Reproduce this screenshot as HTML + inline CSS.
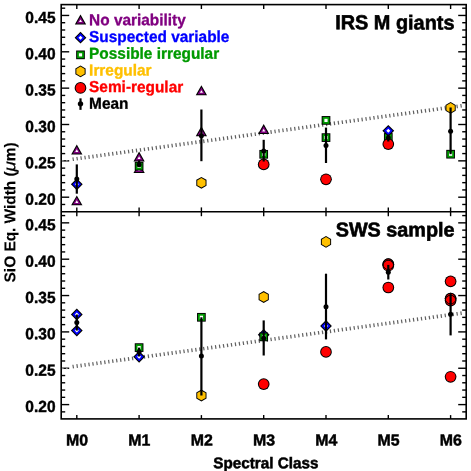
<!DOCTYPE html>
<html><head><meta charset="utf-8"><title>SiO Eq. Width vs Spectral Class</title>
<style>
html,body{margin:0;padding:0;background:#fff;}
body{width:471px;height:471px;overflow:hidden;font-family:"Liberation Sans",sans-serif;}
svg{display:block;will-change:transform}
text{font-family:"Liberation Sans",sans-serif;font-weight:bold;fill:#000}
</style></head><body>
<svg width="471" height="471" viewBox="0 0 471 471">
<rect x="0" y="0" width="471" height="471" fill="#fff"/>
<rect x="61.2" y="4.6" width="405.0" height="414.29999999999995" fill="none" stroke="#000" stroke-width="1.6"/>
<line x1="61.20" y1="211.80" x2="466.20" y2="211.80" stroke="#000" stroke-width="1.6"/>
<line x1="61.20" y1="204.47" x2="65.20" y2="204.47" stroke="#000" stroke-width="1.4"/>
<line x1="466.20" y1="204.47" x2="462.20" y2="204.47" stroke="#000" stroke-width="1.4"/>
<line x1="61.20" y1="197.20" x2="69.20" y2="197.20" stroke="#000" stroke-width="1.4"/>
<line x1="466.20" y1="197.20" x2="458.20" y2="197.20" stroke="#000" stroke-width="1.4"/>
<line x1="61.20" y1="189.93" x2="65.20" y2="189.93" stroke="#000" stroke-width="1.4"/>
<line x1="466.20" y1="189.93" x2="462.20" y2="189.93" stroke="#000" stroke-width="1.4"/>
<line x1="61.20" y1="182.66" x2="65.20" y2="182.66" stroke="#000" stroke-width="1.4"/>
<line x1="466.20" y1="182.66" x2="462.20" y2="182.66" stroke="#000" stroke-width="1.4"/>
<line x1="61.20" y1="175.39" x2="65.20" y2="175.39" stroke="#000" stroke-width="1.4"/>
<line x1="466.20" y1="175.39" x2="462.20" y2="175.39" stroke="#000" stroke-width="1.4"/>
<line x1="61.20" y1="168.12" x2="65.20" y2="168.12" stroke="#000" stroke-width="1.4"/>
<line x1="466.20" y1="168.12" x2="462.20" y2="168.12" stroke="#000" stroke-width="1.4"/>
<line x1="61.20" y1="160.85" x2="69.20" y2="160.85" stroke="#000" stroke-width="1.4"/>
<line x1="466.20" y1="160.85" x2="458.20" y2="160.85" stroke="#000" stroke-width="1.4"/>
<line x1="61.20" y1="153.58" x2="65.20" y2="153.58" stroke="#000" stroke-width="1.4"/>
<line x1="466.20" y1="153.58" x2="462.20" y2="153.58" stroke="#000" stroke-width="1.4"/>
<line x1="61.20" y1="146.31" x2="65.20" y2="146.31" stroke="#000" stroke-width="1.4"/>
<line x1="466.20" y1="146.31" x2="462.20" y2="146.31" stroke="#000" stroke-width="1.4"/>
<line x1="61.20" y1="139.04" x2="65.20" y2="139.04" stroke="#000" stroke-width="1.4"/>
<line x1="466.20" y1="139.04" x2="462.20" y2="139.04" stroke="#000" stroke-width="1.4"/>
<line x1="61.20" y1="131.77" x2="65.20" y2="131.77" stroke="#000" stroke-width="1.4"/>
<line x1="466.20" y1="131.77" x2="462.20" y2="131.77" stroke="#000" stroke-width="1.4"/>
<line x1="61.20" y1="124.50" x2="69.20" y2="124.50" stroke="#000" stroke-width="1.4"/>
<line x1="466.20" y1="124.50" x2="458.20" y2="124.50" stroke="#000" stroke-width="1.4"/>
<line x1="61.20" y1="117.23" x2="65.20" y2="117.23" stroke="#000" stroke-width="1.4"/>
<line x1="466.20" y1="117.23" x2="462.20" y2="117.23" stroke="#000" stroke-width="1.4"/>
<line x1="61.20" y1="109.96" x2="65.20" y2="109.96" stroke="#000" stroke-width="1.4"/>
<line x1="466.20" y1="109.96" x2="462.20" y2="109.96" stroke="#000" stroke-width="1.4"/>
<line x1="61.20" y1="102.69" x2="65.20" y2="102.69" stroke="#000" stroke-width="1.4"/>
<line x1="466.20" y1="102.69" x2="462.20" y2="102.69" stroke="#000" stroke-width="1.4"/>
<line x1="61.20" y1="95.42" x2="65.20" y2="95.42" stroke="#000" stroke-width="1.4"/>
<line x1="466.20" y1="95.42" x2="462.20" y2="95.42" stroke="#000" stroke-width="1.4"/>
<line x1="61.20" y1="88.15" x2="69.20" y2="88.15" stroke="#000" stroke-width="1.4"/>
<line x1="466.20" y1="88.15" x2="458.20" y2="88.15" stroke="#000" stroke-width="1.4"/>
<line x1="61.20" y1="80.88" x2="65.20" y2="80.88" stroke="#000" stroke-width="1.4"/>
<line x1="466.20" y1="80.88" x2="462.20" y2="80.88" stroke="#000" stroke-width="1.4"/>
<line x1="61.20" y1="73.61" x2="65.20" y2="73.61" stroke="#000" stroke-width="1.4"/>
<line x1="466.20" y1="73.61" x2="462.20" y2="73.61" stroke="#000" stroke-width="1.4"/>
<line x1="61.20" y1="66.34" x2="65.20" y2="66.34" stroke="#000" stroke-width="1.4"/>
<line x1="466.20" y1="66.34" x2="462.20" y2="66.34" stroke="#000" stroke-width="1.4"/>
<line x1="61.20" y1="59.07" x2="65.20" y2="59.07" stroke="#000" stroke-width="1.4"/>
<line x1="466.20" y1="59.07" x2="462.20" y2="59.07" stroke="#000" stroke-width="1.4"/>
<line x1="61.20" y1="51.80" x2="69.20" y2="51.80" stroke="#000" stroke-width="1.4"/>
<line x1="466.20" y1="51.80" x2="458.20" y2="51.80" stroke="#000" stroke-width="1.4"/>
<line x1="61.20" y1="44.53" x2="65.20" y2="44.53" stroke="#000" stroke-width="1.4"/>
<line x1="466.20" y1="44.53" x2="462.20" y2="44.53" stroke="#000" stroke-width="1.4"/>
<line x1="61.20" y1="37.26" x2="65.20" y2="37.26" stroke="#000" stroke-width="1.4"/>
<line x1="466.20" y1="37.26" x2="462.20" y2="37.26" stroke="#000" stroke-width="1.4"/>
<line x1="61.20" y1="29.99" x2="65.20" y2="29.99" stroke="#000" stroke-width="1.4"/>
<line x1="466.20" y1="29.99" x2="462.20" y2="29.99" stroke="#000" stroke-width="1.4"/>
<line x1="61.20" y1="22.72" x2="65.20" y2="22.72" stroke="#000" stroke-width="1.4"/>
<line x1="466.20" y1="22.72" x2="462.20" y2="22.72" stroke="#000" stroke-width="1.4"/>
<line x1="61.20" y1="15.45" x2="69.20" y2="15.45" stroke="#000" stroke-width="1.4"/>
<line x1="466.20" y1="15.45" x2="458.20" y2="15.45" stroke="#000" stroke-width="1.4"/>
<line x1="61.20" y1="8.18" x2="65.20" y2="8.18" stroke="#000" stroke-width="1.4"/>
<line x1="466.20" y1="8.18" x2="462.20" y2="8.18" stroke="#000" stroke-width="1.4"/>
<line x1="61.20" y1="411.87" x2="65.20" y2="411.87" stroke="#000" stroke-width="1.4"/>
<line x1="466.20" y1="411.87" x2="462.20" y2="411.87" stroke="#000" stroke-width="1.4"/>
<line x1="61.20" y1="404.60" x2="69.20" y2="404.60" stroke="#000" stroke-width="1.4"/>
<line x1="466.20" y1="404.60" x2="458.20" y2="404.60" stroke="#000" stroke-width="1.4"/>
<line x1="61.20" y1="397.33" x2="65.20" y2="397.33" stroke="#000" stroke-width="1.4"/>
<line x1="466.20" y1="397.33" x2="462.20" y2="397.33" stroke="#000" stroke-width="1.4"/>
<line x1="61.20" y1="390.06" x2="65.20" y2="390.06" stroke="#000" stroke-width="1.4"/>
<line x1="466.20" y1="390.06" x2="462.20" y2="390.06" stroke="#000" stroke-width="1.4"/>
<line x1="61.20" y1="382.79" x2="65.20" y2="382.79" stroke="#000" stroke-width="1.4"/>
<line x1="466.20" y1="382.79" x2="462.20" y2="382.79" stroke="#000" stroke-width="1.4"/>
<line x1="61.20" y1="375.52" x2="65.20" y2="375.52" stroke="#000" stroke-width="1.4"/>
<line x1="466.20" y1="375.52" x2="462.20" y2="375.52" stroke="#000" stroke-width="1.4"/>
<line x1="61.20" y1="368.25" x2="69.20" y2="368.25" stroke="#000" stroke-width="1.4"/>
<line x1="466.20" y1="368.25" x2="458.20" y2="368.25" stroke="#000" stroke-width="1.4"/>
<line x1="61.20" y1="360.98" x2="65.20" y2="360.98" stroke="#000" stroke-width="1.4"/>
<line x1="466.20" y1="360.98" x2="462.20" y2="360.98" stroke="#000" stroke-width="1.4"/>
<line x1="61.20" y1="353.71" x2="65.20" y2="353.71" stroke="#000" stroke-width="1.4"/>
<line x1="466.20" y1="353.71" x2="462.20" y2="353.71" stroke="#000" stroke-width="1.4"/>
<line x1="61.20" y1="346.44" x2="65.20" y2="346.44" stroke="#000" stroke-width="1.4"/>
<line x1="466.20" y1="346.44" x2="462.20" y2="346.44" stroke="#000" stroke-width="1.4"/>
<line x1="61.20" y1="339.17" x2="65.20" y2="339.17" stroke="#000" stroke-width="1.4"/>
<line x1="466.20" y1="339.17" x2="462.20" y2="339.17" stroke="#000" stroke-width="1.4"/>
<line x1="61.20" y1="331.90" x2="69.20" y2="331.90" stroke="#000" stroke-width="1.4"/>
<line x1="466.20" y1="331.90" x2="458.20" y2="331.90" stroke="#000" stroke-width="1.4"/>
<line x1="61.20" y1="324.63" x2="65.20" y2="324.63" stroke="#000" stroke-width="1.4"/>
<line x1="466.20" y1="324.63" x2="462.20" y2="324.63" stroke="#000" stroke-width="1.4"/>
<line x1="61.20" y1="317.36" x2="65.20" y2="317.36" stroke="#000" stroke-width="1.4"/>
<line x1="466.20" y1="317.36" x2="462.20" y2="317.36" stroke="#000" stroke-width="1.4"/>
<line x1="61.20" y1="310.09" x2="65.20" y2="310.09" stroke="#000" stroke-width="1.4"/>
<line x1="466.20" y1="310.09" x2="462.20" y2="310.09" stroke="#000" stroke-width="1.4"/>
<line x1="61.20" y1="302.82" x2="65.20" y2="302.82" stroke="#000" stroke-width="1.4"/>
<line x1="466.20" y1="302.82" x2="462.20" y2="302.82" stroke="#000" stroke-width="1.4"/>
<line x1="61.20" y1="295.55" x2="69.20" y2="295.55" stroke="#000" stroke-width="1.4"/>
<line x1="466.20" y1="295.55" x2="458.20" y2="295.55" stroke="#000" stroke-width="1.4"/>
<line x1="61.20" y1="288.28" x2="65.20" y2="288.28" stroke="#000" stroke-width="1.4"/>
<line x1="466.20" y1="288.28" x2="462.20" y2="288.28" stroke="#000" stroke-width="1.4"/>
<line x1="61.20" y1="281.01" x2="65.20" y2="281.01" stroke="#000" stroke-width="1.4"/>
<line x1="466.20" y1="281.01" x2="462.20" y2="281.01" stroke="#000" stroke-width="1.4"/>
<line x1="61.20" y1="273.74" x2="65.20" y2="273.74" stroke="#000" stroke-width="1.4"/>
<line x1="466.20" y1="273.74" x2="462.20" y2="273.74" stroke="#000" stroke-width="1.4"/>
<line x1="61.20" y1="266.47" x2="65.20" y2="266.47" stroke="#000" stroke-width="1.4"/>
<line x1="466.20" y1="266.47" x2="462.20" y2="266.47" stroke="#000" stroke-width="1.4"/>
<line x1="61.20" y1="259.20" x2="69.20" y2="259.20" stroke="#000" stroke-width="1.4"/>
<line x1="466.20" y1="259.20" x2="458.20" y2="259.20" stroke="#000" stroke-width="1.4"/>
<line x1="61.20" y1="251.93" x2="65.20" y2="251.93" stroke="#000" stroke-width="1.4"/>
<line x1="466.20" y1="251.93" x2="462.20" y2="251.93" stroke="#000" stroke-width="1.4"/>
<line x1="61.20" y1="244.66" x2="65.20" y2="244.66" stroke="#000" stroke-width="1.4"/>
<line x1="466.20" y1="244.66" x2="462.20" y2="244.66" stroke="#000" stroke-width="1.4"/>
<line x1="61.20" y1="237.39" x2="65.20" y2="237.39" stroke="#000" stroke-width="1.4"/>
<line x1="466.20" y1="237.39" x2="462.20" y2="237.39" stroke="#000" stroke-width="1.4"/>
<line x1="61.20" y1="230.12" x2="65.20" y2="230.12" stroke="#000" stroke-width="1.4"/>
<line x1="466.20" y1="230.12" x2="462.20" y2="230.12" stroke="#000" stroke-width="1.4"/>
<line x1="61.20" y1="222.85" x2="69.20" y2="222.85" stroke="#000" stroke-width="1.4"/>
<line x1="466.20" y1="222.85" x2="458.20" y2="222.85" stroke="#000" stroke-width="1.4"/>
<line x1="61.20" y1="215.58" x2="65.20" y2="215.58" stroke="#000" stroke-width="1.4"/>
<line x1="466.20" y1="215.58" x2="462.20" y2="215.58" stroke="#000" stroke-width="1.4"/>
<line x1="76.80" y1="4.60" x2="76.80" y2="9.00" stroke="#000" stroke-width="1.4"/>
<line x1="76.80" y1="207.40" x2="76.80" y2="216.20" stroke="#000" stroke-width="1.4"/>
<line x1="76.80" y1="418.90" x2="76.80" y2="415.10" stroke="#000" stroke-width="1.4"/>
<line x1="139.10" y1="4.60" x2="139.10" y2="9.00" stroke="#000" stroke-width="1.4"/>
<line x1="139.10" y1="207.40" x2="139.10" y2="216.20" stroke="#000" stroke-width="1.4"/>
<line x1="139.10" y1="418.90" x2="139.10" y2="415.10" stroke="#000" stroke-width="1.4"/>
<line x1="201.40" y1="4.60" x2="201.40" y2="9.00" stroke="#000" stroke-width="1.4"/>
<line x1="201.40" y1="207.40" x2="201.40" y2="216.20" stroke="#000" stroke-width="1.4"/>
<line x1="201.40" y1="418.90" x2="201.40" y2="415.10" stroke="#000" stroke-width="1.4"/>
<line x1="263.70" y1="4.60" x2="263.70" y2="9.00" stroke="#000" stroke-width="1.4"/>
<line x1="263.70" y1="207.40" x2="263.70" y2="216.20" stroke="#000" stroke-width="1.4"/>
<line x1="263.70" y1="418.90" x2="263.70" y2="415.10" stroke="#000" stroke-width="1.4"/>
<line x1="326.00" y1="4.60" x2="326.00" y2="9.00" stroke="#000" stroke-width="1.4"/>
<line x1="326.00" y1="207.40" x2="326.00" y2="216.20" stroke="#000" stroke-width="1.4"/>
<line x1="326.00" y1="418.90" x2="326.00" y2="415.10" stroke="#000" stroke-width="1.4"/>
<line x1="388.30" y1="4.60" x2="388.30" y2="9.00" stroke="#000" stroke-width="1.4"/>
<line x1="388.30" y1="207.40" x2="388.30" y2="216.20" stroke="#000" stroke-width="1.4"/>
<line x1="388.30" y1="418.90" x2="388.30" y2="415.10" stroke="#000" stroke-width="1.4"/>
<line x1="450.60" y1="4.60" x2="450.60" y2="9.00" stroke="#000" stroke-width="1.4"/>
<line x1="450.60" y1="207.40" x2="450.60" y2="216.20" stroke="#000" stroke-width="1.4"/>
<line x1="450.60" y1="418.90" x2="450.60" y2="415.10" stroke="#000" stroke-width="1.4"/>
<rect x="72.60" y="157.34" width="1.2" height="3.7" fill="#606060" transform="rotate(-9 73.20 159.19)"/><rect x="76.56" y="156.79" width="1.2" height="3.7" fill="#606060" transform="rotate(-9 77.16 158.64)"/><rect x="80.52" y="156.25" width="1.2" height="3.7" fill="#606060" transform="rotate(-9 81.12 158.10)"/><rect x="84.47" y="155.70" width="1.2" height="3.7" fill="#606060" transform="rotate(-9 85.07 157.55)"/><rect x="88.43" y="155.16" width="1.2" height="3.7" fill="#606060" transform="rotate(-9 89.03 157.01)"/><rect x="92.39" y="154.62" width="1.2" height="3.7" fill="#606060" transform="rotate(-9 92.99 156.47)"/><rect x="96.35" y="154.07" width="1.2" height="3.7" fill="#606060" transform="rotate(-9 96.95 155.92)"/><rect x="100.31" y="153.53" width="1.2" height="3.7" fill="#606060" transform="rotate(-9 100.91 155.38)"/><rect x="104.26" y="152.98" width="1.2" height="3.7" fill="#606060" transform="rotate(-9 104.86 154.83)"/><rect x="108.22" y="152.44" width="1.2" height="3.7" fill="#606060" transform="rotate(-9 108.82 154.29)"/><rect x="112.18" y="151.89" width="1.2" height="3.7" fill="#606060" transform="rotate(-9 112.78 153.74)"/><rect x="116.14" y="151.35" width="1.2" height="3.7" fill="#606060" transform="rotate(-9 116.74 153.20)"/><rect x="120.10" y="150.81" width="1.2" height="3.7" fill="#606060" transform="rotate(-9 120.70 152.66)"/><rect x="124.05" y="150.26" width="1.2" height="3.7" fill="#606060" transform="rotate(-9 124.65 152.11)"/><rect x="128.01" y="149.72" width="1.2" height="3.7" fill="#606060" transform="rotate(-9 128.61 151.57)"/><rect x="131.97" y="149.17" width="1.2" height="3.7" fill="#606060" transform="rotate(-9 132.57 151.02)"/><rect x="135.93" y="148.63" width="1.2" height="3.7" fill="#606060" transform="rotate(-9 136.53 150.48)"/><rect x="139.89" y="148.08" width="1.2" height="3.7" fill="#606060" transform="rotate(-9 140.49 149.93)"/><rect x="143.84" y="147.54" width="1.2" height="3.7" fill="#606060" transform="rotate(-9 144.44 149.39)"/><rect x="147.80" y="147.00" width="1.2" height="3.7" fill="#606060" transform="rotate(-9 148.40 148.85)"/><rect x="151.76" y="146.45" width="1.2" height="3.7" fill="#606060" transform="rotate(-9 152.36 148.30)"/><rect x="155.72" y="145.91" width="1.2" height="3.7" fill="#606060" transform="rotate(-9 156.32 147.76)"/><rect x="159.68" y="145.36" width="1.2" height="3.7" fill="#606060" transform="rotate(-9 160.28 147.21)"/><rect x="163.63" y="144.82" width="1.2" height="3.7" fill="#606060" transform="rotate(-9 164.23 146.67)"/><rect x="167.59" y="144.27" width="1.2" height="3.7" fill="#606060" transform="rotate(-9 168.19 146.12)"/><rect x="171.55" y="143.73" width="1.2" height="3.7" fill="#606060" transform="rotate(-9 172.15 145.58)"/><rect x="175.51" y="143.19" width="1.2" height="3.7" fill="#606060" transform="rotate(-9 176.11 145.04)"/><rect x="179.47" y="142.64" width="1.2" height="3.7" fill="#606060" transform="rotate(-9 180.07 144.49)"/><rect x="183.42" y="142.10" width="1.2" height="3.7" fill="#606060" transform="rotate(-9 184.02 143.95)"/><rect x="187.38" y="141.55" width="1.2" height="3.7" fill="#606060" transform="rotate(-9 187.98 143.40)"/><rect x="191.34" y="141.01" width="1.2" height="3.7" fill="#606060" transform="rotate(-9 191.94 142.86)"/><rect x="195.30" y="140.47" width="1.2" height="3.7" fill="#606060" transform="rotate(-9 195.90 142.32)"/><rect x="199.26" y="139.92" width="1.2" height="3.7" fill="#606060" transform="rotate(-9 199.86 141.77)"/><rect x="203.21" y="139.38" width="1.2" height="3.7" fill="#606060" transform="rotate(-9 203.81 141.23)"/><rect x="207.17" y="138.83" width="1.2" height="3.7" fill="#606060" transform="rotate(-9 207.77 140.68)"/><rect x="211.13" y="138.29" width="1.2" height="3.7" fill="#606060" transform="rotate(-9 211.73 140.14)"/><rect x="215.09" y="137.74" width="1.2" height="3.7" fill="#606060" transform="rotate(-9 215.69 139.59)"/><rect x="219.05" y="137.20" width="1.2" height="3.7" fill="#606060" transform="rotate(-9 219.65 139.05)"/><rect x="223.00" y="136.66" width="1.2" height="3.7" fill="#606060" transform="rotate(-9 223.60 138.51)"/><rect x="226.96" y="136.11" width="1.2" height="3.7" fill="#606060" transform="rotate(-9 227.56 137.96)"/><rect x="230.92" y="135.57" width="1.2" height="3.7" fill="#606060" transform="rotate(-9 231.52 137.42)"/><rect x="234.88" y="135.02" width="1.2" height="3.7" fill="#606060" transform="rotate(-9 235.48 136.87)"/><rect x="238.84" y="134.48" width="1.2" height="3.7" fill="#606060" transform="rotate(-9 239.44 136.33)"/><rect x="242.79" y="133.93" width="1.2" height="3.7" fill="#606060" transform="rotate(-9 243.39 135.78)"/><rect x="246.75" y="133.39" width="1.2" height="3.7" fill="#606060" transform="rotate(-9 247.35 135.24)"/><rect x="250.71" y="132.85" width="1.2" height="3.7" fill="#606060" transform="rotate(-9 251.31 134.70)"/><rect x="254.67" y="132.30" width="1.2" height="3.7" fill="#606060" transform="rotate(-9 255.27 134.15)"/><rect x="258.63" y="131.76" width="1.2" height="3.7" fill="#606060" transform="rotate(-9 259.23 133.61)"/><rect x="262.58" y="131.21" width="1.2" height="3.7" fill="#606060" transform="rotate(-9 263.18 133.06)"/><rect x="266.54" y="130.67" width="1.2" height="3.7" fill="#606060" transform="rotate(-9 267.14 132.52)"/><rect x="270.50" y="130.13" width="1.2" height="3.7" fill="#606060" transform="rotate(-9 271.10 131.98)"/><rect x="274.46" y="129.58" width="1.2" height="3.7" fill="#606060" transform="rotate(-9 275.06 131.43)"/><rect x="278.42" y="129.04" width="1.2" height="3.7" fill="#606060" transform="rotate(-9 279.02 130.89)"/><rect x="282.37" y="128.49" width="1.2" height="3.7" fill="#606060" transform="rotate(-9 282.97 130.34)"/><rect x="286.33" y="127.95" width="1.2" height="3.7" fill="#606060" transform="rotate(-9 286.93 129.80)"/><rect x="290.29" y="127.40" width="1.2" height="3.7" fill="#606060" transform="rotate(-9 290.89 129.25)"/><rect x="294.25" y="126.86" width="1.2" height="3.7" fill="#606060" transform="rotate(-9 294.85 128.71)"/><rect x="298.21" y="126.32" width="1.2" height="3.7" fill="#606060" transform="rotate(-9 298.81 128.17)"/><rect x="302.16" y="125.77" width="1.2" height="3.7" fill="#606060" transform="rotate(-9 302.76 127.62)"/><rect x="306.12" y="125.23" width="1.2" height="3.7" fill="#606060" transform="rotate(-9 306.72 127.08)"/><rect x="310.08" y="124.68" width="1.2" height="3.7" fill="#606060" transform="rotate(-9 310.68 126.53)"/><rect x="314.04" y="124.14" width="1.2" height="3.7" fill="#606060" transform="rotate(-9 314.64 125.99)"/><rect x="318.00" y="123.59" width="1.2" height="3.7" fill="#606060" transform="rotate(-9 318.60 125.44)"/><rect x="321.95" y="123.05" width="1.2" height="3.7" fill="#606060" transform="rotate(-9 322.55 124.90)"/><rect x="325.91" y="122.51" width="1.2" height="3.7" fill="#606060" transform="rotate(-9 326.51 124.36)"/><rect x="329.87" y="121.96" width="1.2" height="3.7" fill="#606060" transform="rotate(-9 330.47 123.81)"/><rect x="333.83" y="121.42" width="1.2" height="3.7" fill="#606060" transform="rotate(-9 334.43 123.27)"/><rect x="337.79" y="120.87" width="1.2" height="3.7" fill="#606060" transform="rotate(-9 338.39 122.72)"/><rect x="341.74" y="120.33" width="1.2" height="3.7" fill="#606060" transform="rotate(-9 342.34 122.18)"/><rect x="345.70" y="119.78" width="1.2" height="3.7" fill="#606060" transform="rotate(-9 346.30 121.63)"/><rect x="349.66" y="119.24" width="1.2" height="3.7" fill="#606060" transform="rotate(-9 350.26 121.09)"/><rect x="353.62" y="118.70" width="1.2" height="3.7" fill="#606060" transform="rotate(-9 354.22 120.55)"/><rect x="357.58" y="118.15" width="1.2" height="3.7" fill="#606060" transform="rotate(-9 358.18 120.00)"/><rect x="361.53" y="117.61" width="1.2" height="3.7" fill="#606060" transform="rotate(-9 362.13 119.46)"/><rect x="365.49" y="117.06" width="1.2" height="3.7" fill="#606060" transform="rotate(-9 366.09 118.91)"/><rect x="369.45" y="116.52" width="1.2" height="3.7" fill="#606060" transform="rotate(-9 370.05 118.37)"/><rect x="373.41" y="115.98" width="1.2" height="3.7" fill="#606060" transform="rotate(-9 374.01 117.83)"/><rect x="377.37" y="115.43" width="1.2" height="3.7" fill="#606060" transform="rotate(-9 377.97 117.28)"/><rect x="381.32" y="114.89" width="1.2" height="3.7" fill="#606060" transform="rotate(-9 381.92 116.74)"/><rect x="385.28" y="114.34" width="1.2" height="3.7" fill="#606060" transform="rotate(-9 385.88 116.19)"/><rect x="389.24" y="113.80" width="1.2" height="3.7" fill="#606060" transform="rotate(-9 389.84 115.65)"/><rect x="393.20" y="113.25" width="1.2" height="3.7" fill="#606060" transform="rotate(-9 393.80 115.10)"/><rect x="397.16" y="112.71" width="1.2" height="3.7" fill="#606060" transform="rotate(-9 397.76 114.56)"/><rect x="401.11" y="112.17" width="1.2" height="3.7" fill="#606060" transform="rotate(-9 401.71 114.02)"/><rect x="405.07" y="111.62" width="1.2" height="3.7" fill="#606060" transform="rotate(-9 405.67 113.47)"/><rect x="409.03" y="111.08" width="1.2" height="3.7" fill="#606060" transform="rotate(-9 409.63 112.93)"/><rect x="412.99" y="110.53" width="1.2" height="3.7" fill="#606060" transform="rotate(-9 413.59 112.38)"/><rect x="416.95" y="109.99" width="1.2" height="3.7" fill="#606060" transform="rotate(-9 417.55 111.84)"/><rect x="420.90" y="109.44" width="1.2" height="3.7" fill="#606060" transform="rotate(-9 421.50 111.29)"/><rect x="424.86" y="108.90" width="1.2" height="3.7" fill="#606060" transform="rotate(-9 425.46 110.75)"/><rect x="428.82" y="108.36" width="1.2" height="3.7" fill="#606060" transform="rotate(-9 429.42 110.21)"/><rect x="432.78" y="107.81" width="1.2" height="3.7" fill="#606060" transform="rotate(-9 433.38 109.66)"/><rect x="436.74" y="107.27" width="1.2" height="3.7" fill="#606060" transform="rotate(-9 437.34 109.12)"/><rect x="440.69" y="106.72" width="1.2" height="3.7" fill="#606060" transform="rotate(-9 441.29 108.57)"/><rect x="444.65" y="106.18" width="1.2" height="3.7" fill="#606060" transform="rotate(-9 445.25 108.03)"/><rect x="448.61" y="105.63" width="1.2" height="3.7" fill="#606060" transform="rotate(-9 449.21 107.48)"/><rect x="452.57" y="105.09" width="1.2" height="3.7" fill="#606060" transform="rotate(-9 453.17 106.94)"/><rect x="456.53" y="104.55" width="1.2" height="3.7" fill="#606060" transform="rotate(-9 457.13 106.40)"/><rect x="460.48" y="104.00" width="1.2" height="3.7" fill="#606060" transform="rotate(-9 461.08 105.85)"/>
<circle cx="62.800000000000004" cy="160.85" r="0.9" fill="#999"/><circle cx="66.8" cy="160.85" r="0.9" fill="#999"/>
<circle cx="62.800000000000004" cy="368.25" r="0.9" fill="#999"/><circle cx="66.8" cy="368.25" r="0.9" fill="#999"/>
<rect x="72.60" y="364.74" width="1.2" height="3.7" fill="#606060" transform="rotate(-9 73.20 366.59)"/><rect x="76.56" y="364.19" width="1.2" height="3.7" fill="#606060" transform="rotate(-9 77.16 366.04)"/><rect x="80.52" y="363.65" width="1.2" height="3.7" fill="#606060" transform="rotate(-9 81.12 365.50)"/><rect x="84.47" y="363.10" width="1.2" height="3.7" fill="#606060" transform="rotate(-9 85.07 364.95)"/><rect x="88.43" y="362.56" width="1.2" height="3.7" fill="#606060" transform="rotate(-9 89.03 364.41)"/><rect x="92.39" y="362.02" width="1.2" height="3.7" fill="#606060" transform="rotate(-9 92.99 363.87)"/><rect x="96.35" y="361.47" width="1.2" height="3.7" fill="#606060" transform="rotate(-9 96.95 363.32)"/><rect x="100.31" y="360.93" width="1.2" height="3.7" fill="#606060" transform="rotate(-9 100.91 362.78)"/><rect x="104.26" y="360.38" width="1.2" height="3.7" fill="#606060" transform="rotate(-9 104.86 362.23)"/><rect x="108.22" y="359.84" width="1.2" height="3.7" fill="#606060" transform="rotate(-9 108.82 361.69)"/><rect x="112.18" y="359.29" width="1.2" height="3.7" fill="#606060" transform="rotate(-9 112.78 361.14)"/><rect x="116.14" y="358.75" width="1.2" height="3.7" fill="#606060" transform="rotate(-9 116.74 360.60)"/><rect x="120.10" y="358.21" width="1.2" height="3.7" fill="#606060" transform="rotate(-9 120.70 360.06)"/><rect x="124.05" y="357.66" width="1.2" height="3.7" fill="#606060" transform="rotate(-9 124.65 359.51)"/><rect x="128.01" y="357.12" width="1.2" height="3.7" fill="#606060" transform="rotate(-9 128.61 358.97)"/><rect x="131.97" y="356.57" width="1.2" height="3.7" fill="#606060" transform="rotate(-9 132.57 358.42)"/><rect x="135.93" y="356.03" width="1.2" height="3.7" fill="#606060" transform="rotate(-9 136.53 357.88)"/><rect x="139.89" y="355.48" width="1.2" height="3.7" fill="#606060" transform="rotate(-9 140.49 357.33)"/><rect x="143.84" y="354.94" width="1.2" height="3.7" fill="#606060" transform="rotate(-9 144.44 356.79)"/><rect x="147.80" y="354.40" width="1.2" height="3.7" fill="#606060" transform="rotate(-9 148.40 356.25)"/><rect x="151.76" y="353.85" width="1.2" height="3.7" fill="#606060" transform="rotate(-9 152.36 355.70)"/><rect x="155.72" y="353.31" width="1.2" height="3.7" fill="#606060" transform="rotate(-9 156.32 355.16)"/><rect x="159.68" y="352.76" width="1.2" height="3.7" fill="#606060" transform="rotate(-9 160.28 354.61)"/><rect x="163.63" y="352.22" width="1.2" height="3.7" fill="#606060" transform="rotate(-9 164.23 354.07)"/><rect x="167.59" y="351.67" width="1.2" height="3.7" fill="#606060" transform="rotate(-9 168.19 353.52)"/><rect x="171.55" y="351.13" width="1.2" height="3.7" fill="#606060" transform="rotate(-9 172.15 352.98)"/><rect x="175.51" y="350.59" width="1.2" height="3.7" fill="#606060" transform="rotate(-9 176.11 352.44)"/><rect x="179.47" y="350.04" width="1.2" height="3.7" fill="#606060" transform="rotate(-9 180.07 351.89)"/><rect x="183.42" y="349.50" width="1.2" height="3.7" fill="#606060" transform="rotate(-9 184.02 351.35)"/><rect x="187.38" y="348.95" width="1.2" height="3.7" fill="#606060" transform="rotate(-9 187.98 350.80)"/><rect x="191.34" y="348.41" width="1.2" height="3.7" fill="#606060" transform="rotate(-9 191.94 350.26)"/><rect x="195.30" y="347.87" width="1.2" height="3.7" fill="#606060" transform="rotate(-9 195.90 349.72)"/><rect x="199.26" y="347.32" width="1.2" height="3.7" fill="#606060" transform="rotate(-9 199.86 349.17)"/><rect x="203.21" y="346.78" width="1.2" height="3.7" fill="#606060" transform="rotate(-9 203.81 348.63)"/><rect x="207.17" y="346.23" width="1.2" height="3.7" fill="#606060" transform="rotate(-9 207.77 348.08)"/><rect x="211.13" y="345.69" width="1.2" height="3.7" fill="#606060" transform="rotate(-9 211.73 347.54)"/><rect x="215.09" y="345.14" width="1.2" height="3.7" fill="#606060" transform="rotate(-9 215.69 346.99)"/><rect x="219.05" y="344.60" width="1.2" height="3.7" fill="#606060" transform="rotate(-9 219.65 346.45)"/><rect x="223.00" y="344.06" width="1.2" height="3.7" fill="#606060" transform="rotate(-9 223.60 345.91)"/><rect x="226.96" y="343.51" width="1.2" height="3.7" fill="#606060" transform="rotate(-9 227.56 345.36)"/><rect x="230.92" y="342.97" width="1.2" height="3.7" fill="#606060" transform="rotate(-9 231.52 344.82)"/><rect x="234.88" y="342.42" width="1.2" height="3.7" fill="#606060" transform="rotate(-9 235.48 344.27)"/><rect x="238.84" y="341.88" width="1.2" height="3.7" fill="#606060" transform="rotate(-9 239.44 343.73)"/><rect x="242.79" y="341.33" width="1.2" height="3.7" fill="#606060" transform="rotate(-9 243.39 343.18)"/><rect x="246.75" y="340.79" width="1.2" height="3.7" fill="#606060" transform="rotate(-9 247.35 342.64)"/><rect x="250.71" y="340.25" width="1.2" height="3.7" fill="#606060" transform="rotate(-9 251.31 342.10)"/><rect x="254.67" y="339.70" width="1.2" height="3.7" fill="#606060" transform="rotate(-9 255.27 341.55)"/><rect x="258.63" y="339.16" width="1.2" height="3.7" fill="#606060" transform="rotate(-9 259.23 341.01)"/><rect x="262.58" y="338.61" width="1.2" height="3.7" fill="#606060" transform="rotate(-9 263.18 340.46)"/><rect x="266.54" y="338.07" width="1.2" height="3.7" fill="#606060" transform="rotate(-9 267.14 339.92)"/><rect x="270.50" y="337.53" width="1.2" height="3.7" fill="#606060" transform="rotate(-9 271.10 339.38)"/><rect x="274.46" y="336.98" width="1.2" height="3.7" fill="#606060" transform="rotate(-9 275.06 338.83)"/><rect x="278.42" y="336.44" width="1.2" height="3.7" fill="#606060" transform="rotate(-9 279.02 338.29)"/><rect x="282.37" y="335.89" width="1.2" height="3.7" fill="#606060" transform="rotate(-9 282.97 337.74)"/><rect x="286.33" y="335.35" width="1.2" height="3.7" fill="#606060" transform="rotate(-9 286.93 337.20)"/><rect x="290.29" y="334.80" width="1.2" height="3.7" fill="#606060" transform="rotate(-9 290.89 336.65)"/><rect x="294.25" y="334.26" width="1.2" height="3.7" fill="#606060" transform="rotate(-9 294.85 336.11)"/><rect x="298.21" y="333.72" width="1.2" height="3.7" fill="#606060" transform="rotate(-9 298.81 335.57)"/><rect x="302.16" y="333.17" width="1.2" height="3.7" fill="#606060" transform="rotate(-9 302.76 335.02)"/><rect x="306.12" y="332.63" width="1.2" height="3.7" fill="#606060" transform="rotate(-9 306.72 334.48)"/><rect x="310.08" y="332.08" width="1.2" height="3.7" fill="#606060" transform="rotate(-9 310.68 333.93)"/><rect x="314.04" y="331.54" width="1.2" height="3.7" fill="#606060" transform="rotate(-9 314.64 333.39)"/><rect x="318.00" y="330.99" width="1.2" height="3.7" fill="#606060" transform="rotate(-9 318.60 332.84)"/><rect x="321.95" y="330.45" width="1.2" height="3.7" fill="#606060" transform="rotate(-9 322.55 332.30)"/><rect x="325.91" y="329.91" width="1.2" height="3.7" fill="#606060" transform="rotate(-9 326.51 331.76)"/><rect x="329.87" y="329.36" width="1.2" height="3.7" fill="#606060" transform="rotate(-9 330.47 331.21)"/><rect x="333.83" y="328.82" width="1.2" height="3.7" fill="#606060" transform="rotate(-9 334.43 330.67)"/><rect x="337.79" y="328.27" width="1.2" height="3.7" fill="#606060" transform="rotate(-9 338.39 330.12)"/><rect x="341.74" y="327.73" width="1.2" height="3.7" fill="#606060" transform="rotate(-9 342.34 329.58)"/><rect x="345.70" y="327.18" width="1.2" height="3.7" fill="#606060" transform="rotate(-9 346.30 329.03)"/><rect x="349.66" y="326.64" width="1.2" height="3.7" fill="#606060" transform="rotate(-9 350.26 328.49)"/><rect x="353.62" y="326.10" width="1.2" height="3.7" fill="#606060" transform="rotate(-9 354.22 327.95)"/><rect x="357.58" y="325.55" width="1.2" height="3.7" fill="#606060" transform="rotate(-9 358.18 327.40)"/><rect x="361.53" y="325.01" width="1.2" height="3.7" fill="#606060" transform="rotate(-9 362.13 326.86)"/><rect x="365.49" y="324.46" width="1.2" height="3.7" fill="#606060" transform="rotate(-9 366.09 326.31)"/><rect x="369.45" y="323.92" width="1.2" height="3.7" fill="#606060" transform="rotate(-9 370.05 325.77)"/><rect x="373.41" y="323.38" width="1.2" height="3.7" fill="#606060" transform="rotate(-9 374.01 325.23)"/><rect x="377.37" y="322.83" width="1.2" height="3.7" fill="#606060" transform="rotate(-9 377.97 324.68)"/><rect x="381.32" y="322.29" width="1.2" height="3.7" fill="#606060" transform="rotate(-9 381.92 324.14)"/><rect x="385.28" y="321.74" width="1.2" height="3.7" fill="#606060" transform="rotate(-9 385.88 323.59)"/><rect x="389.24" y="321.20" width="1.2" height="3.7" fill="#606060" transform="rotate(-9 389.84 323.05)"/><rect x="393.20" y="320.65" width="1.2" height="3.7" fill="#606060" transform="rotate(-9 393.80 322.50)"/><rect x="397.16" y="320.11" width="1.2" height="3.7" fill="#606060" transform="rotate(-9 397.76 321.96)"/><rect x="401.11" y="319.57" width="1.2" height="3.7" fill="#606060" transform="rotate(-9 401.71 321.42)"/><rect x="405.07" y="319.02" width="1.2" height="3.7" fill="#606060" transform="rotate(-9 405.67 320.87)"/><rect x="409.03" y="318.48" width="1.2" height="3.7" fill="#606060" transform="rotate(-9 409.63 320.33)"/><rect x="412.99" y="317.93" width="1.2" height="3.7" fill="#606060" transform="rotate(-9 413.59 319.78)"/><rect x="416.95" y="317.39" width="1.2" height="3.7" fill="#606060" transform="rotate(-9 417.55 319.24)"/><rect x="420.90" y="316.84" width="1.2" height="3.7" fill="#606060" transform="rotate(-9 421.50 318.69)"/><rect x="424.86" y="316.30" width="1.2" height="3.7" fill="#606060" transform="rotate(-9 425.46 318.15)"/><rect x="428.82" y="315.76" width="1.2" height="3.7" fill="#606060" transform="rotate(-9 429.42 317.61)"/><rect x="432.78" y="315.21" width="1.2" height="3.7" fill="#606060" transform="rotate(-9 433.38 317.06)"/><rect x="436.74" y="314.67" width="1.2" height="3.7" fill="#606060" transform="rotate(-9 437.34 316.52)"/><rect x="440.69" y="314.12" width="1.2" height="3.7" fill="#606060" transform="rotate(-9 441.29 315.97)"/><rect x="444.65" y="313.58" width="1.2" height="3.7" fill="#606060" transform="rotate(-9 445.25 315.43)"/><rect x="448.61" y="313.03" width="1.2" height="3.7" fill="#606060" transform="rotate(-9 449.21 314.88)"/><rect x="452.57" y="312.49" width="1.2" height="3.7" fill="#606060" transform="rotate(-9 453.17 314.34)"/><rect x="456.53" y="311.95" width="1.2" height="3.7" fill="#606060" transform="rotate(-9 457.13 313.80)"/><rect x="460.48" y="311.40" width="1.2" height="3.7" fill="#606060" transform="rotate(-9 461.08 313.25)"/>
<path d="M76.80 144.55L82.45 154.45L71.15 154.45Z" fill="#000"/><path d="M76.80 146.66L80.64 153.39L72.96 153.39Z" fill="#800080"/><path d="M76.80 149.37L78.33 152.04L75.27 152.04Z" fill="#fff"/>
<path d="M76.80 195.45L82.45 205.35L71.15 205.35Z" fill="#000"/><path d="M76.80 197.56L80.64 204.29L72.96 204.29Z" fill="#800080"/><path d="M76.80 200.27L78.33 202.94L75.27 202.94Z" fill="#fff"/>
<path d="M76.80 178.40L82.70 184.30L76.80 190.20L70.90 184.30Z" fill="#000"/><path d="M76.80 179.90L81.20 184.30L76.80 188.70L72.40 184.30Z" fill="#0000ff"/><path d="M76.80 182.30L78.80 184.30L76.80 186.30L74.80 184.30Z" fill="#fff"/>
<line x1="76.80" y1="164.40" x2="76.80" y2="193.70" stroke="#000" stroke-width="2.2"/><circle cx="76.80" cy="178.90" r="2.5" fill="#000"/>
<path d="M139.10 151.55L144.75 161.45L133.45 161.45Z" fill="#000"/><path d="M139.10 153.66L142.94 160.39L135.26 160.39Z" fill="#800080"/><path d="M139.10 156.37L140.63 159.04L137.57 159.04Z" fill="#fff"/>
<path d="M139.10 163.15L144.75 173.05L133.45 173.05Z" fill="#000"/><path d="M139.10 165.26L142.94 171.99L135.26 171.99Z" fill="#800080"/><path d="M139.10 167.97L140.63 170.64L137.57 170.64Z" fill="#fff"/>
<rect x="134.75" y="161.85" width="8.70" height="8.70" fill="#000"/><rect x="135.70" y="162.80" width="6.80" height="6.80" fill="#009a00"/><rect x="137.50" y="164.60" width="3.20" height="3.20" fill="#fff"/>
<line x1="139.10" y1="160.50" x2="139.10" y2="166.00" stroke="#000" stroke-width="2.2"/><circle cx="139.10" cy="164.80" r="2.5" fill="#000"/>
<path d="M201.40 85.35L207.05 95.25L195.75 95.25Z" fill="#000"/><path d="M201.40 87.46L205.24 94.19L197.56 94.19Z" fill="#800080"/><path d="M201.40 90.17L202.93 92.84L199.87 92.84Z" fill="#fff"/>
<path d="M201.40 126.35L207.05 136.25L195.75 136.25Z" fill="#000"/><path d="M201.40 128.46L205.24 135.19L197.56 135.19Z" fill="#800080"/><path d="M201.40 131.17L202.93 133.84L199.87 133.84Z" fill="#fff"/>
<polygon points="201.40,176.90 196.29,179.85 196.29,185.75 201.40,188.70 206.51,185.75 206.51,179.85" fill="#000"/><polygon points="201.40,178.00 197.24,180.40 197.24,185.20 201.40,187.60 205.56,185.20 205.56,180.40" fill="#ffc000"/>
<line x1="201.40" y1="109.50" x2="201.40" y2="161.20" stroke="#000" stroke-width="2.2"/><circle cx="201.40" cy="135.70" r="2.5" fill="#000"/>
<path d="M263.70 124.05L269.35 133.95L258.05 133.95Z" fill="#000"/><path d="M263.70 126.16L267.54 132.89L259.86 132.89Z" fill="#800080"/><path d="M263.70 128.87L265.23 131.54L262.17 131.54Z" fill="#fff"/>
<rect x="259.35" y="149.95" width="8.70" height="8.70" fill="#000"/><rect x="260.30" y="150.90" width="6.80" height="6.80" fill="#009a00"/><rect x="262.10" y="152.70" width="3.20" height="3.20" fill="#fff"/>
<circle cx="263.70" cy="164.40" r="5.85" fill="#000"/><circle cx="263.70" cy="164.40" r="4.85" fill="#ff0000"/>
<line x1="263.70" y1="139.80" x2="263.70" y2="161.50" stroke="#000" stroke-width="2.2"/><circle cx="263.70" cy="151.00" r="2.5" fill="#000"/>
<rect x="321.65" y="116.05" width="8.70" height="8.70" fill="#000"/><rect x="322.60" y="117.00" width="6.80" height="6.80" fill="#009a00"/><rect x="324.40" y="118.80" width="3.20" height="3.20" fill="#fff"/>
<rect x="321.65" y="133.25" width="8.70" height="8.70" fill="#000"/><rect x="322.60" y="134.20" width="6.80" height="6.80" fill="#009a00"/><rect x="324.40" y="136.00" width="3.20" height="3.20" fill="#fff"/>
<circle cx="326.00" cy="179.30" r="5.85" fill="#000"/><circle cx="326.00" cy="179.30" r="4.85" fill="#ff0000"/>
<line x1="326.00" y1="127.60" x2="326.00" y2="163.00" stroke="#000" stroke-width="2.2"/><circle cx="326.00" cy="145.60" r="2.5" fill="#000"/>
<rect x="383.95" y="133.05" width="8.70" height="8.70" fill="#000"/><rect x="384.90" y="134.00" width="6.80" height="6.80" fill="#009a00"/><rect x="386.70" y="135.80" width="3.20" height="3.20" fill="#fff"/>
<path d="M388.30 124.90L394.20 130.80L388.30 136.70L382.40 130.80Z" fill="#000"/><path d="M388.30 126.40L392.70 130.80L388.30 135.20L383.90 130.80Z" fill="#0000ff"/><path d="M388.30 128.80L390.30 130.80L388.30 132.80L386.30 130.80Z" fill="#fff"/>
<circle cx="388.30" cy="144.10" r="5.85" fill="#000"/><circle cx="388.30" cy="144.10" r="4.85" fill="#ff0000"/>
<line x1="388.30" y1="134.50" x2="388.30" y2="141.50" stroke="#000" stroke-width="2.2"/><circle cx="388.30" cy="137.80" r="2.5" fill="#000"/>
<polygon points="450.60,102.00 445.49,104.95 445.49,110.85 450.60,113.80 455.71,110.85 455.71,104.95" fill="#000"/><polygon points="450.60,103.10 446.44,105.50 446.44,110.30 450.60,112.70 454.76,110.30 454.76,105.50" fill="#ffc000"/>
<rect x="446.25" y="149.85" width="8.70" height="8.70" fill="#000"/><rect x="447.20" y="150.80" width="6.80" height="6.80" fill="#009a00"/><rect x="449.00" y="152.60" width="3.20" height="3.20" fill="#fff"/>
<line x1="450.60" y1="107.50" x2="450.60" y2="154.20" stroke="#000" stroke-width="2.2"/><circle cx="450.60" cy="131.30" r="2.5" fill="#000"/>
<path d="M76.80 308.60L82.70 314.50L76.80 320.40L70.90 314.50Z" fill="#000"/><path d="M76.80 310.10L81.20 314.50L76.80 318.90L72.40 314.50Z" fill="#0000ff"/><path d="M76.80 312.50L78.80 314.50L76.80 316.50L74.80 314.50Z" fill="#fff"/>
<path d="M76.80 324.70L82.70 330.60L76.80 336.50L70.90 330.60Z" fill="#000"/><path d="M76.80 326.20L81.20 330.60L76.80 335.00L72.40 330.60Z" fill="#0000ff"/><path d="M76.80 328.60L78.80 330.60L76.80 332.60L74.80 330.60Z" fill="#fff"/>
<line x1="76.80" y1="314.50" x2="76.80" y2="330.60" stroke="#000" stroke-width="2.2"/><circle cx="76.80" cy="322.40" r="2.5" fill="#000"/>
<rect x="134.75" y="343.25" width="8.70" height="8.70" fill="#000"/><rect x="135.70" y="344.20" width="6.80" height="6.80" fill="#009a00"/><rect x="137.50" y="346.00" width="3.20" height="3.20" fill="#fff"/>
<path d="M139.10 350.90L145.00 356.80L139.10 362.70L133.20 356.80Z" fill="#000"/><path d="M139.10 352.40L143.50 356.80L139.10 361.20L134.70 356.80Z" fill="#0000ff"/><path d="M139.10 354.80L141.10 356.80L139.10 358.80L137.10 356.80Z" fill="#fff"/>
<line x1="139.10" y1="347.60" x2="139.10" y2="356.50" stroke="#000" stroke-width="2.2"/><circle cx="139.10" cy="352.00" r="2.5" fill="#000"/>
<rect x="197.05" y="312.95" width="8.70" height="8.70" fill="#000"/><rect x="198.00" y="313.90" width="6.80" height="6.80" fill="#009a00"/><rect x="199.80" y="315.70" width="3.20" height="3.20" fill="#fff"/>
<polygon points="201.40,389.60 196.29,392.55 196.29,398.45 201.40,401.40 206.51,398.45 206.51,392.55" fill="#000"/><polygon points="201.40,390.70 197.24,393.10 197.24,397.90 201.40,400.30 205.56,397.90 205.56,393.10" fill="#ffc000"/>
<line x1="201.40" y1="317.30" x2="201.40" y2="395.50" stroke="#000" stroke-width="2.2"/><circle cx="201.40" cy="356.00" r="2.5" fill="#000"/>
<polygon points="263.70,291.10 258.59,294.05 258.59,299.95 263.70,302.90 268.81,299.95 268.81,294.05" fill="#000"/><polygon points="263.70,292.20 259.54,294.60 259.54,299.40 263.70,301.80 267.86,299.40 267.86,294.60" fill="#ffc000"/>
<path d="M263.70 328.90L269.60 334.80L263.70 340.70L257.80 334.80Z" fill="#000"/><path d="M263.70 330.40L268.10 334.80L263.70 339.20L259.30 334.80Z" fill="#0000ff"/><path d="M263.70 332.80L265.70 334.80L263.70 336.80L261.70 334.80Z" fill="#fff"/>
<rect x="259.35" y="332.55" width="8.70" height="8.70" fill="#000"/><rect x="260.30" y="333.50" width="6.80" height="6.80" fill="#009a00"/><rect x="262.10" y="335.30" width="3.20" height="3.20" fill="#fff"/>
<circle cx="263.70" cy="384.10" r="5.85" fill="#000"/><circle cx="263.70" cy="384.10" r="4.85" fill="#ff0000"/>
<line x1="263.70" y1="320.40" x2="263.70" y2="355.50" stroke="#000" stroke-width="2.2"/><circle cx="263.70" cy="338.20" r="2.5" fill="#000"/>
<polygon points="326.00,236.00 320.89,238.95 320.89,244.85 326.00,247.80 331.11,244.85 331.11,238.95" fill="#000"/><polygon points="326.00,237.10 321.84,239.50 321.84,244.30 326.00,246.70 330.16,244.30 330.16,239.50" fill="#ffc000"/>
<path d="M326.00 320.10L331.90 326.00L326.00 331.90L320.10 326.00Z" fill="#000"/><path d="M326.00 321.60L330.40 326.00L326.00 330.40L321.60 326.00Z" fill="#0000ff"/><path d="M326.00 324.00L328.00 326.00L326.00 328.00L324.00 326.00Z" fill="#fff"/>
<circle cx="326.00" cy="351.90" r="5.85" fill="#000"/><circle cx="326.00" cy="351.90" r="4.85" fill="#ff0000"/>
<line x1="326.00" y1="273.70" x2="326.00" y2="339.40" stroke="#000" stroke-width="2.2"/><circle cx="326.00" cy="306.70" r="2.5" fill="#000"/>
<circle cx="388.30" cy="264.20" r="5.85" fill="#000"/><circle cx="388.30" cy="264.20" r="4.85" fill="#ff0000"/>
<circle cx="388.30" cy="265.70" r="5.85" fill="#000"/><circle cx="388.30" cy="265.70" r="4.85" fill="#ff0000"/>
<circle cx="388.30" cy="264.20" r="5.35" fill="none" stroke="#000" stroke-width="1.0"/>
<circle cx="388.30" cy="287.50" r="5.85" fill="#000"/><circle cx="388.30" cy="287.50" r="4.85" fill="#ff0000"/>
<line x1="388.30" y1="264.90" x2="388.30" y2="279.50" stroke="#000" stroke-width="2.2"/><circle cx="388.30" cy="272.30" r="2.5" fill="#000"/>
<circle cx="450.60" cy="281.40" r="5.85" fill="#000"/><circle cx="450.60" cy="281.40" r="4.85" fill="#ff0000"/>
<circle cx="450.60" cy="298.60" r="5.85" fill="#000"/><circle cx="450.60" cy="298.60" r="4.85" fill="#ff0000"/>
<circle cx="450.60" cy="300.60" r="5.85" fill="#000"/><circle cx="450.60" cy="300.60" r="4.85" fill="#ff0000"/>
<circle cx="450.60" cy="298.60" r="5.35" fill="none" stroke="#000" stroke-width="1.0"/>
<circle cx="450.60" cy="376.80" r="5.85" fill="#000"/><circle cx="450.60" cy="376.80" r="4.85" fill="#ff0000"/>
<line x1="450.60" y1="293.80" x2="450.60" y2="335.40" stroke="#000" stroke-width="2.2"/><circle cx="450.60" cy="314.30" r="2.5" fill="#000"/>
<path d="M80.50 14.60L86.15 24.50L74.85 24.50Z" fill="#000"/><path d="M80.50 16.71L84.34 23.44L76.66 23.44Z" fill="#800080"/><path d="M80.50 19.42L82.03 22.09L78.97 22.09Z" fill="#fff"/>
<path d="M80.50 31.75L86.40 37.65L80.50 43.55L74.60 37.65Z" fill="#000"/><path d="M80.50 33.25L84.90 37.65L80.50 42.05L76.10 37.65Z" fill="#0000ff"/><path d="M80.50 35.65L82.50 37.65L80.50 39.65L78.50 37.65Z" fill="#fff"/>
<rect x="76.15" y="50.50" width="8.70" height="8.70" fill="#000"/><rect x="77.10" y="51.45" width="6.80" height="6.80" fill="#009a00"/><rect x="78.90" y="53.25" width="3.20" height="3.20" fill="#fff"/>
<polygon points="80.50,65.45 75.39,68.40 75.39,74.30 80.50,77.25 85.61,74.30 85.61,68.40" fill="#000"/><polygon points="80.50,66.55 76.34,68.95 76.34,73.75 80.50,76.15 84.66,73.75 84.66,68.95" fill="#ffc000"/>
<circle cx="80.50" cy="87.95" r="5.85" fill="#000"/><circle cx="80.50" cy="87.95" r="4.85" fill="#ff0000"/>
<line x1="80.50" y1="98.35" x2="80.50" y2="109.85" stroke="#000" stroke-width="2.2"/><circle cx="80.50" cy="103.85" r="2.7" fill="#000"/>
<text transform="translate(89.10,25.30) rotate(0.03) scale(1,1.03)" font-size="15.4" text-anchor="start" style="fill:#800080;stroke:#800080;stroke-width:0.3px">No variability</text>
<text transform="translate(89.10,42.00) rotate(0.03) scale(1,1.03)" font-size="15.4" text-anchor="start" style="fill:#0000ff;stroke:#0000ff;stroke-width:0.3px">Suspected variable</text>
<text transform="translate(89.10,58.70) rotate(0.03) scale(1,1.03)" font-size="15.4" text-anchor="start" style="fill:#009a00;stroke:#009a00;stroke-width:0.3px">Possible irregular</text>
<text transform="translate(89.10,75.40) rotate(0.03) scale(1,1.03)" font-size="15.4" text-anchor="start" style="fill:#ffc000;stroke:#ffc000;stroke-width:0.3px">Irregular</text>
<text transform="translate(89.10,92.10) rotate(0.03) scale(1,1.03)" font-size="15.4" text-anchor="start" style="fill:#ff0000;stroke:#ff0000;stroke-width:0.3px">Semi-regular</text>
<text transform="translate(89.10,108.80) rotate(0.03) scale(1,1.03)" font-size="15.4" text-anchor="start" style="fill:#000;stroke:#000;stroke-width:0.3px">Mean</text>
<text transform="translate(454.50,29.40) rotate(0.03) scale(1,1.015)" font-size="19.9" text-anchor="end" style="fill:#000;stroke:#000;stroke-width:0.6px">IRS M giants</text>
<text transform="translate(454.50,236.50) rotate(0.03) scale(1,1.015)" font-size="19.8" text-anchor="end" style="fill:#000;stroke:#000;stroke-width:0.6px">SWS sample</text>
<text transform="translate(55.50,204.65) rotate(0.03) scale(1,1.04)" font-size="15.5" text-anchor="end" style="fill:#000;stroke:#000;stroke-width:0.4px">0.20</text>
<text transform="translate(55.50,168.30) rotate(0.03) scale(1,1.04)" font-size="15.5" text-anchor="end" style="fill:#000;stroke:#000;stroke-width:0.4px">0.25</text>
<text transform="translate(55.50,131.95) rotate(0.03) scale(1,1.04)" font-size="15.5" text-anchor="end" style="fill:#000;stroke:#000;stroke-width:0.4px">0.30</text>
<text transform="translate(55.50,95.60) rotate(0.03) scale(1,1.04)" font-size="15.5" text-anchor="end" style="fill:#000;stroke:#000;stroke-width:0.4px">0.35</text>
<text transform="translate(55.50,59.25) rotate(0.03) scale(1,1.04)" font-size="15.5" text-anchor="end" style="fill:#000;stroke:#000;stroke-width:0.4px">0.40</text>
<text transform="translate(55.50,22.90) rotate(0.03) scale(1,1.04)" font-size="15.5" text-anchor="end" style="fill:#000;stroke:#000;stroke-width:0.4px">0.45</text>
<text transform="translate(55.50,412.05) rotate(0.03) scale(1,1.04)" font-size="15.5" text-anchor="end" style="fill:#000;stroke:#000;stroke-width:0.4px">0.20</text>
<text transform="translate(55.50,375.70) rotate(0.03) scale(1,1.04)" font-size="15.5" text-anchor="end" style="fill:#000;stroke:#000;stroke-width:0.4px">0.25</text>
<text transform="translate(55.50,339.35) rotate(0.03) scale(1,1.04)" font-size="15.5" text-anchor="end" style="fill:#000;stroke:#000;stroke-width:0.4px">0.30</text>
<text transform="translate(55.50,303.00) rotate(0.03) scale(1,1.04)" font-size="15.5" text-anchor="end" style="fill:#000;stroke:#000;stroke-width:0.4px">0.35</text>
<text transform="translate(55.50,266.65) rotate(0.03) scale(1,1.04)" font-size="15.5" text-anchor="end" style="fill:#000;stroke:#000;stroke-width:0.4px">0.40</text>
<text transform="translate(55.50,230.30) rotate(0.03) scale(1,1.04)" font-size="15.5" text-anchor="end" style="fill:#000;stroke:#000;stroke-width:0.4px">0.45</text>
<text transform="translate(77.10,445.40) rotate(0.03) scale(1,1.0)" font-size="15.9" text-anchor="middle" style="fill:#000;stroke:#000;stroke-width:0.45px">M0</text>
<text transform="translate(139.40,445.40) rotate(0.03) scale(1,1.0)" font-size="15.9" text-anchor="middle" style="fill:#000;stroke:#000;stroke-width:0.45px">M1</text>
<text transform="translate(201.70,445.40) rotate(0.03) scale(1,1.0)" font-size="15.9" text-anchor="middle" style="fill:#000;stroke:#000;stroke-width:0.45px">M2</text>
<text transform="translate(264.00,445.40) rotate(0.03) scale(1,1.0)" font-size="15.9" text-anchor="middle" style="fill:#000;stroke:#000;stroke-width:0.45px">M3</text>
<text transform="translate(326.30,445.40) rotate(0.03) scale(1,1.0)" font-size="15.9" text-anchor="middle" style="fill:#000;stroke:#000;stroke-width:0.45px">M4</text>
<text transform="translate(388.60,445.40) rotate(0.03) scale(1,1.0)" font-size="15.9" text-anchor="middle" style="fill:#000;stroke:#000;stroke-width:0.45px">M5</text>
<text transform="translate(450.90,445.40) rotate(0.03) scale(1,1.0)" font-size="15.9" text-anchor="middle" style="fill:#000;stroke:#000;stroke-width:0.45px">M6</text>
<text transform="translate(265.85,468.20) rotate(0.03) scale(1,1.02)" font-size="15.25" text-anchor="middle" style="fill:#000;stroke:#000;stroke-width:0.5px">Spectral Class</text>
<text transform="translate(15.20,212.40) rotate(-90) rotate(0.03) scale(1,1.01)" font-size="15.4" text-anchor="middle" style="fill:#000;stroke:#000;stroke-width:0.15px">SiO Eq. Width (<tspan style="font-style:italic;font-weight:normal;stroke-width:0.2px" font-size="16.2" textLength="10.2" lengthAdjust="spacingAndGlyphs">μ</tspan>m)</text>
</svg>
</body></html>
